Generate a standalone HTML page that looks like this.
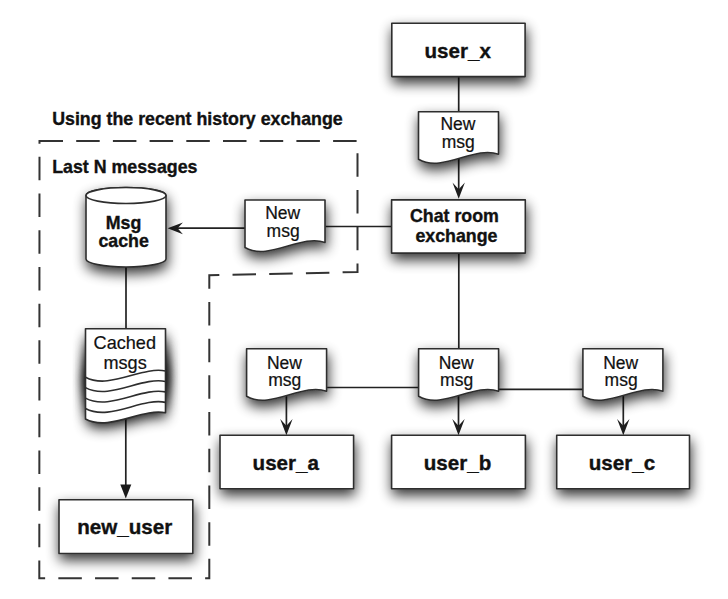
<!DOCTYPE html>
<html><head><meta charset="utf-8"><style>
html,body{margin:0;padding:0;background:#fff;}
svg{display:block;}
.b{font-family:"Liberation Sans",sans-serif;font-weight:bold;fill:#111;stroke:#111;stroke-width:0.35px;}
.r{font-family:"Liberation Sans",sans-serif;fill:#111;stroke:#111;stroke-width:0.21px;}
</style></head><body>
<svg width="728" height="599" viewBox="0 0 728 599">
<defs>
<filter id="sh" x="-30%" y="-30%" width="160%" height="170%">
  <feGaussianBlur in="SourceAlpha" stdDeviation="6.5"/>
  <feOffset dx="1" dy="6.3"/>
  <feComponentTransfer><feFuncA type="linear" slope="0.8"/></feComponentTransfer>
  <feMerge><feMergeNode/><feMergeNode in="SourceGraphic"/></feMerge>
</filter>
<filter id="sho" x="-30%" y="-30%" width="160%" height="170%">
  <feGaussianBlur in="SourceAlpha" stdDeviation="6.5"/>
  <feOffset dx="1" dy="6.3"/>
  <feComponentTransfer><feFuncA type="linear" slope="0.8"/></feComponentTransfer>
</filter>
</defs>
<path d="M39.5,141 H357.5 V272 L209.3,275.3 V578.2 H39.3 Z" fill="none" stroke="#333" stroke-width="2" stroke-dasharray="23.5 13.2" stroke-dashoffset="0"/>
<text x="52.2" y="124.5" class="b" font-size="17.8" text-anchor="start">Using the recent history exchange</text>
<text x="52.2" y="173.35" class="b" font-size="17.8" text-anchor="start">Last N messages</text>
<line x1="458.7" y1="76" x2="458.7" y2="112" stroke="#222" stroke-width="1.7"/>
<line x1="458.7" y1="155" x2="458.7" y2="190" stroke="#222" stroke-width="1.7"/>
<path d="M458.7,198.8 L452.5,182.5 L458.7,189.3 L464.9,182.5 Z" fill="#1e1e1e"/>
<line x1="325.5" y1="226.5" x2="391.4" y2="226.5" stroke="#222" stroke-width="1.7"/>
<line x1="176" y1="228.2" x2="245" y2="228.2" stroke="#222" stroke-width="1.7"/>
<path d="M167.6,228.3 L182.9,222.4 L177.6,228.3 L182.9,234.20000000000002 Z" fill="#1e1e1e"/>
<line x1="126" y1="265" x2="126" y2="330" stroke="#222" stroke-width="1.7"/>
<line x1="125.8" y1="415" x2="125.8" y2="486" stroke="#222" stroke-width="1.7"/>
<path d="M120.3,484.4 L131.3,484.4 L125.8,498.6 Z" fill="#1a1a1a"/>
<line x1="458.8" y1="252.6" x2="458.8" y2="349" stroke="#222" stroke-width="1.7"/>
<line x1="326.5" y1="387.5" x2="418.6" y2="387.5" stroke="#222" stroke-width="1.7"/>
<line x1="498.3" y1="389.3" x2="582.9" y2="389.3" stroke="#222" stroke-width="1.7"/>
<line x1="286.4" y1="392" x2="286.4" y2="426" stroke="#222" stroke-width="1.7"/>
<path d="M286.4,435.2 L280.2,418.9 L286.4,425.7 L292.59999999999997,418.9 Z" fill="#1e1e1e"/>
<line x1="458.5" y1="392" x2="458.5" y2="426" stroke="#222" stroke-width="1.7"/>
<path d="M458.5,435.2 L452.3,418.9 L458.5,425.7 L464.7,418.9 Z" fill="#1e1e1e"/>
<line x1="623.3" y1="392" x2="623.3" y2="426" stroke="#222" stroke-width="1.7"/>
<path d="M623.3,435.2 L617.0999999999999,418.9 L623.3,425.7 L629.5,418.9 Z" fill="#1e1e1e"/>
<rect x="391.8" y="23.3" width="133.30" height="53.30" fill="#fff" stroke="#2e2e2e" stroke-width="1.6" stroke-linejoin="round" filter="url(#sh)"/>
<text x="457.65" y="57.8" class="b" font-size="20.6" text-anchor="middle">user_x</text>
<path d="M418.5,111.8 H498.5 V154.3 C474.50,145.30 442.50,173.30 418.5,159.3 Z" fill="#fff" stroke="#2e2e2e" stroke-width="1.6" stroke-linejoin="round" filter="url(#sh)"/>
<text x="457.9" y="130.1" class="r" font-size="17.5" text-anchor="middle">New</text>
<text x="458.29999999999995" y="147.9" class="r" font-size="17.5" text-anchor="middle">msg</text>
<rect x="391.6" y="199.9" width="133.70" height="53.20" fill="#fff" stroke="#2e2e2e" stroke-width="1.6" stroke-linejoin="round" filter="url(#sh)"/>
<text x="454.4" y="222.2" class="b" font-size="17.8" text-anchor="middle">Chat room</text>
<text x="456.45" y="242.0" class="b" font-size="17.8" text-anchor="middle">exchange</text>
<path d="M245,200 H325 V242.5 C301.00,233.50 269.00,261.50 245,247.5 Z" fill="#fff" stroke="#2e2e2e" stroke-width="1.6" stroke-linejoin="round" filter="url(#sh)"/>
<text x="282.75" y="219.2" class="r" font-size="17.5" text-anchor="middle">New</text>
<text x="283.15" y="236.8" class="r" font-size="17.5" text-anchor="middle">msg</text>
<path d="M246.6,348.8 H326.6 V391.3 C302.60,382.30 270.60,410.30 246.6,396.3 Z" fill="#fff" stroke="#2e2e2e" stroke-width="1.6" stroke-linejoin="round" filter="url(#sh)"/>
<text x="284.4" y="368.5" class="r" font-size="17.5" text-anchor="middle">New</text>
<text x="284.79999999999995" y="385.9" class="r" font-size="17.5" text-anchor="middle">msg</text>
<path d="M418.6,348.8 H498.6 V391.3 C474.60,382.30 442.60,410.30 418.6,396.3 Z" fill="#fff" stroke="#2e2e2e" stroke-width="1.6" stroke-linejoin="round" filter="url(#sh)"/>
<text x="456.2" y="368.5" class="r" font-size="17.5" text-anchor="middle">New</text>
<text x="456.59999999999997" y="385.9" class="r" font-size="17.5" text-anchor="middle">msg</text>
<path d="M582.9,348.8 H662.9 V391.3 C638.90,382.30 606.90,410.30 582.9,396.3 Z" fill="#fff" stroke="#2e2e2e" stroke-width="1.6" stroke-linejoin="round" filter="url(#sh)"/>
<text x="620.75" y="368.5" class="r" font-size="17.5" text-anchor="middle">New</text>
<text x="621.15" y="385.9" class="r" font-size="17.5" text-anchor="middle">msg</text>
<rect x="220" y="435.2" width="133.60" height="53.50" fill="#fff" stroke="#2e2e2e" stroke-width="1.6" stroke-linejoin="round" filter="url(#sh)"/>
<text x="285.8" y="469.9" class="b" font-size="20.6" text-anchor="middle">user_a</text>
<rect x="391.6" y="435.2" width="133.80" height="53.50" fill="#fff" stroke="#2e2e2e" stroke-width="1.6" stroke-linejoin="round" filter="url(#sh)"/>
<text x="457.55" y="469.9" class="b" font-size="20.6" text-anchor="middle">user_b</text>
<rect x="556.7" y="435.2" width="132.80" height="53.50" fill="#fff" stroke="#2e2e2e" stroke-width="1.6" stroke-linejoin="round" filter="url(#sh)"/>
<text x="621.9" y="469.9" class="b" font-size="20.6" text-anchor="middle">user_c</text>
<rect x="59" y="499.7" width="133.80" height="53.80" fill="#fff" stroke="#2e2e2e" stroke-width="1.6" stroke-linejoin="round" filter="url(#sh)"/>
<text x="124.7" y="534.1" class="b" font-size="20.6" text-anchor="middle">new_user</text>
<path d="M86,195.5 V259 A40,8 0 0 0 166,259 V195.5 A40,8 0 0 0 86,195.5 Z" fill="#fff" stroke="#2e2e2e" stroke-width="1.6" stroke-linejoin="round" filter="url(#sh)"/>
<ellipse cx="126" cy="195.5" rx="40" ry="8" fill="#fff" stroke="#2e2e2e" stroke-width="1.6"/>
<text x="123.5" y="229.0" class="b" font-size="17.8" text-anchor="middle">Msg</text>
<text x="123.6" y="247.2" class="b" font-size="17.8" text-anchor="middle">cache</text>
<g fill="#000"><path d="M85.5,328.8 H165.5 V371.0 C141.50,366.00 109.50,390.20 85.5,377.2 Z" filter="url(#sho)"/><path d="M85.5,339.25 H165.5 V381.45 C141.50,376.45 109.50,400.65 85.5,387.65 Z" filter="url(#sho)"/><path d="M85.5,349.7 H165.5 V391.9 C141.50,386.90 109.50,411.10 85.5,398.09999999999997 Z" filter="url(#sho)"/><path d="M85.5,360.15000000000003 H165.5 V402.35 C141.50,397.35 109.50,421.55 85.5,408.55 Z" filter="url(#sho)"/><path d="M85.5,370.6 H165.5 V412.8 C141.50,407.80 109.50,432.00 85.5,419.0 Z" filter="url(#sho)"/></g>
<path d="M85.5,328.8 H165.5 V412.8 C141.50,407.80 109.50,432.00 85.5,419.0 Z" fill="#fff" stroke="#2e2e2e" stroke-width="1.6" stroke-linejoin="round"/>
<path d="M165.5,371.0 C141.50,366.00 109.50,390.20 85.5,377.2" fill="none" stroke="#2e2e2e" stroke-width="1.6"/>
<path d="M165.5,381.45 C141.50,376.45 109.50,400.65 85.5,387.65" fill="none" stroke="#2e2e2e" stroke-width="1.6"/>
<path d="M165.5,391.9 C141.50,386.90 109.50,411.10 85.5,398.09999999999997" fill="none" stroke="#2e2e2e" stroke-width="1.6"/>
<path d="M165.5,402.35 C141.50,397.35 109.50,421.55 85.5,408.55" fill="none" stroke="#2e2e2e" stroke-width="1.6"/>
<text x="124.8" y="348.9" class="r" font-size="18.1" text-anchor="middle">Cached</text>
<text x="125.1" y="368.7" class="r" font-size="18.1" text-anchor="middle">msgs</text>
</svg>
</body></html>
